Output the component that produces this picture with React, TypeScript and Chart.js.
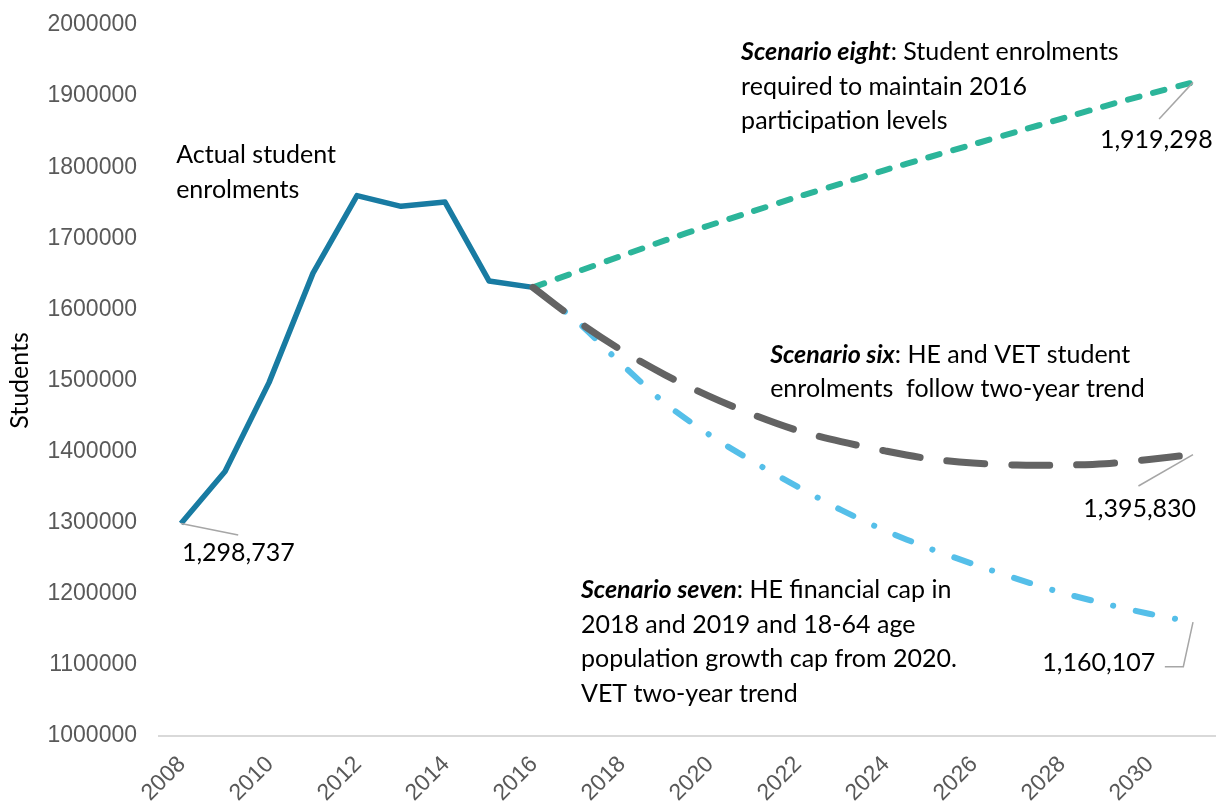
import React, { useEffect, useRef } from 'react';
import { Chart, registerables } from 'chart.js';

Chart.register(...registerables);

// ---------- data ----------
const years = [
  '2008', '2009', '2010', '2011', '2012', '2013', '2014', '2015', '2016', '2017', '2018', '2019',
  '2020', '2021', '2022', '2023', '2024', '2025', '2026', '2027', '2028', '2029', '2030', '2031',
];
const tickYears = ['2008', '2010', '2012', '2014', '2016', '2018', '2020', '2022', '2024', '2026', '2028', '2030'];

const actualEnrolments = [
  1298737, 1372000, 1497000, 1651000, 1760000, 1745000, 1751000, 1640000, 1631000,
  null, null, null, null, null, null, null, null, null, null, null, null, null, null, null,
];
const scenarioEight = [
  null, null, null, null, null, null, null, null,
  1631000, 1653000, 1675000, 1697000, 1718000, 1738000, 1758000, 1777000,
  1796000, 1814000, 1832000, 1850000, 1868000, 1886000, 1903000, 1919298,
];
const scenarioSix = [
  null, null, null, null, null, null, null, null,
  1631000, 1584000, 1543000, 1508000, 1478000, 1452000, 1430000, 1414000,
  1401000, 1390000, 1384000, 1381000, 1381000, 1383000, 1389000, 1395830,
];
const scenarioSeven = [
  null, null, null, null, null, null, null, null,
  1631000, 1583000, 1524000, 1468000, 1424000, 1386000, 1351000, 1318000,
  1289000, 1264000, 1242000, 1221000, 1202000, 1186000, 1172000, 1160107,
];

const yMin = 1000000;
const yMax = 2000000;
const yStep = 100000;
const yTitle = 'Students';

type Seg = { t: string; bi?: boolean };
type Note = { x: number; y: number; align: 'left' | 'right'; lines: Seg[][] };

const notes: Note[] = [
  { x: -0.11, y: 1817000, align: 'left', lines: [[{ t: 'Actual student' }], [{ t: 'enrolments' }]] },
  {
    x: 12.73, y: 1962000, align: 'left',
    lines: [
      [{ t: 'Scenario eight', bi: true }, { t: ': Student enrolments' }],
      [{ t: 'required to maintain 2016' }],
      [{ t: 'participation levels' }],
    ],
  },
  { x: 23.45, y: 1838000, align: 'right', lines: [[{ t: '1,919,298' }]] },
  {
    x: 13.39, y: 1536000, align: 'left',
    lines: [
      [{ t: 'Scenario six', bi: true }, { t: ': HE and VET student' }],
      [{ t: 'enrolments  follow two-year trend' }],
    ],
  },
  { x: 23.07, y: 1319300, align: 'right', lines: [[{ t: '1,395,830' }]] },
  {
    x: 9.09, y: 1205300, align: 'left',
    lines: [
      [{ t: 'Scenario seven', bi: true }, { t: ': HE financial cap in' }],
      [{ t: '2018 and 2019 and 18-64 age' }],
      [{ t: 'population growth cap from 2020.' }],
      [{ t: 'VET two-year trend' }],
    ],
  },
  { x: 22.14, y: 1102700, align: 'right', lines: [[{ t: '1,160,107' }]] },
  { x: 0.02, y: 1257400, align: 'left', lines: [[{ t: '1,298,737' }]] },
];

const leaders: [number, number][][] = [
  [[0, actualEnrolments[0] as number], [1.3, 1282700]],
  [[23, scenarioEight[23] as number], [22.23, 1867800]],
  [[23, scenarioSix[23] as number], [21.76, 1351600]],
  [[23, scenarioSeven[23] as number], [22.78, 1097500], [22.36, 1097500]],
];

// ---------- styles ----------
const NOTE_FONT = 'Lato';
const NOTE_SIZE = 25;
const NOTE_LH = 34.5;
const TICK_FONT = { family: '"Liberation Sans", Arial, sans-serif', size: 23 };

const annotationPlugin = {
  id: 'notes',
  afterDatasetsDraw(chart: any) {
    const { ctx } = chart;
    const xs = chart.scales.x;
    const ys = chart.scales.y;
    ctx.save();
    ctx.strokeStyle = '#a6a6a6';
    ctx.lineWidth = 1.5;
    leaders.forEach((path) => {
      ctx.beginPath();
      path.forEach((p, i) => {
        const px = xs.getPixelForValue(p[0]);
        const py = ys.getPixelForValue(p[1]);
        if (i === 0) ctx.moveTo(px, py);
        else ctx.lineTo(px, py);
      });
      ctx.stroke();
    });
    ctx.fillStyle = '#000000';
    ctx.textBaseline = 'middle';
    ctx.textAlign = 'left';
    notes.forEach((n) => {
      const x0 = xs.getPixelForValue(n.x);
      const y0 = ys.getPixelForValue(n.y);
      n.lines.forEach((line, li) => {
        const fonts = line.map((s) => (s.bi ? 'italic bold ' : '') + NOTE_SIZE + 'px ' + NOTE_FONT);
        const widths = line.map((s, i) => {
          ctx.font = fonts[i];
          return ctx.measureText(s.t).width;
        });
        const total = widths.reduce((a, b) => a + b, 0);
        let cx = n.align === 'left' ? x0 : x0 - total;
        const cy = y0 + li * NOTE_LH;
        line.forEach((s, i) => {
          ctx.font = fonts[i];
          ctx.fillText(s.t, cx, cy);
          cx += widths[i];
        });
      });
    });
    ctx.restore();
  },
};

export default function App() {
  const ref = useRef<HTMLCanvasElement | null>(null);
  useEffect(() => {
    if (!ref.current) return;
    const chart = new Chart(ref.current, {
      type: 'line',
      data: {
        labels: years,
        datasets: [
          {
            label: 'Scenario six',
            data: scenarioSix,
            borderColor: '#636363',
            borderWidth: 7,
            borderDash: [38, 27],
            borderCapStyle: 'round',
            tension: 0.3,
            pointRadius: 0,
            fill: false,
          },
          {
            label: 'Scenario eight',
            data: scenarioEight,
            borderColor: '#2cb59a',
            borderWidth: 6,
            borderDash: [12, 14],
            borderCapStyle: 'round',
            tension: 0.2,
            pointRadius: 0,
            fill: false,
          },
          {
            label: 'Scenario seven',
            data: scenarioSeven,
            borderColor: '#55bfe9',
            borderWidth: 6,
            borderDash: [17, 23, 0.1, 23],
            borderCapStyle: 'round',
            tension: 0.3,
            pointRadius: 0,
            fill: false,
          },
          {
            label: 'Actual student enrolments',
            data: actualEnrolments,
            borderColor: '#187ba2',
            borderWidth: 5.5,
            borderJoinStyle: 'round',
            tension: 0,
            pointRadius: 0,
            fill: false,
          },
        ],
      },
      options: {
        animation: false,
        responsive: false,
        devicePixelRatio: 1,
        layout: { padding: { top: 25, right: 5, bottom: 0, left: 0 } },
        plugins: { legend: { display: false }, tooltip: { enabled: false } },
        scales: {
          x: {
            type: 'category',
            offset: true,
            grid: { display: false, drawTicks: false },
            border: { display: true, color: '#d9d9d9', width: 2 },
            afterFit: (s: any) => { s.height = 66; },
            ticks: {
              autoSkip: false,
              maxRotation: 45,
              minRotation: 45,
              padding: 15,
              labelOffset: 1,
              color: '#595959',
              font: TICK_FONT,
              callback: function (this: any, value: any) {
                const lab = this.getLabelForValue(value);
                return tickYears.includes(lab) ? lab : null;
              },
            },
          },
          y: {
            min: yMin,
            max: yMax,
            grid: { display: false, drawTicks: false },
            border: { display: false },
            afterFit: (s: any) => {
              s.width = 159;
              s.paddingTop = 14;
              s.paddingBottom = 14;
            },
            ticks: {
              stepSize: yStep,
              padding: 22,
              color: '#595959',
              font: TICK_FONT,
              callback: (v: any) => String(v),
            },
            title: {
              display: true,
              text: yTitle,
              color: '#000000',
              font: { family: NOTE_FONT, size: 25 },
              padding: { top: 5, bottom: 0 },
            },
          },
        },
      },
      plugins: [annotationPlugin],
    } as any);
    return () => chart.destroy();
  }, []);
  return (
    <div style={{ position: 'fixed', left: 0, top: 0, width: 1220, height: 802, background: '#ffffff' }}>
      <canvas ref={ref} width={1220} height={802} style={{ display: 'block', width: 1220, height: 802 }} />
    </div>
  );
}
